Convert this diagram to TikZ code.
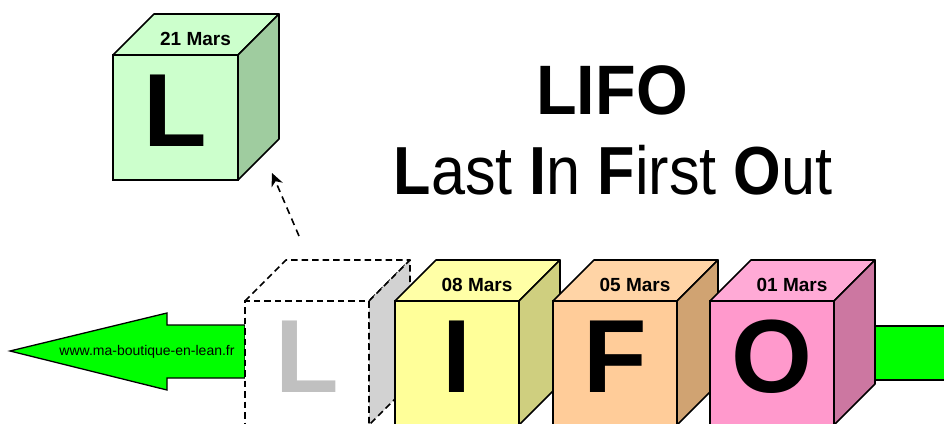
\documentclass[tikz,border=0pt]{standalone}
\usepackage{fontspec}
\setsansfont{Liberation Sans}
\usepackage{graphicx}
\usetikzlibrary{arrows.meta}

\definecolor{vertclair}{HTML}{CCFFCC}
\definecolor{vertcote}{HTML}{9FCC9F}
\definecolor{jaune}{HTML}{FFFF99}
\definecolor{jaunedessus}{HTML}{FFFFA6}
\definecolor{jaunecote}{HTML}{CFCF7F}
\definecolor{orange}{HTML}{FFCC99}
\definecolor{orangedessus}{HTML}{FFD4A6}
\definecolor{orangecote}{HTML}{D0A372}
\definecolor{rose}{HTML}{FF99CC}
\definecolor{rosedessus}{HTML}{FFAAD6}
\definecolor{rosecote}{HTML}{CC77A1}
\definecolor{fleche}{HTML}{00FF00}
\definecolor{gris}{HTML}{D2D2D2}
\definecolor{grislettre}{HTML}{C0C0C0}

\tikzset{
  face/.style={draw, line width=1.6pt, anchor=north west, inner sep=0pt, outer sep=0pt},
  arete/.style={draw, line width=1.6pt, line join=round},
  lettre/.style={font=\sffamily\bfseries\fontsize{104}{104}\selectfont, inner sep=0pt},
  date/.style={font=\sffamily\bfseries\fontsize{19}{19}\selectfont, inner sep=0pt},
  pointille/.style={dash pattern=on 6.5pt off 4pt}
}

% cube: nom, coin haut gauche, taille, face, dessus, cote, lettre, date
\newcommand{\cube}[8]{%
  \node[face, minimum size=#3pt, fill=#4] (#1) at #2 {};
  \draw[arete, fill=#5] (#1.north west) -- ++(41,-41) -- ++(#3,0) -- (#1.north east) -- cycle;
  \draw[arete, fill=#6] (#1.north east) -- ++(41,-41) -- ++(0,#3) -- (#1.south east) -- cycle;
  \node[lettre] (#1l) at ([yshift=6.5pt]#1.center) {#7};
  \node[date] (#1d) at ([shift={(20,-16)}]#1.north) {#8};
}

\begin{document}
\begin{tikzpicture}[x=1pt, y=-1pt, font=\sffamily]
  \useasboundingbox (0,0) rectangle (944,423);
  \clip (0,0) rectangle (944,423);

  % Fleche de sortie (gauche)
  \draw[line width=1.3pt, fill=fleche] (10,351) -- (167,313) -- (167,325) -- (245,325)
    -- (245,378) -- (167,378) -- (167,390) -- cycle;
  \node[font=\sffamily\fontsize{14}{14}\selectfont, inner sep=0pt] (site) at (147,352) {www.ma-boutique-en-lean.fr};

  % Arrivee (droite)
  \draw[line width=1.3pt, fill=fleche] (840,326) rectangle (950,380);

  % Cube sorti (fantome)
  \node[face, pointille, fill=white, minimum size=124pt] (fantome) at (245,301) {};
  \draw[arete, pointille] (fantome.north west) -- ++(41,-41) -- ++(124,0) -- (fantome.north east);
  \draw[arete, pointille, fill=gris] (fantome.north east) -- ++(41,-41) -- ++(0,124) -- (fantome.south east) -- cycle;
  \node[lettre, text=grislettre] (fantomel) at ([yshift=6.5pt]fantome.center) {L};

  % Pile
  \cube{cubeI}{(395,301)}{124}{jaune}{jaunedessus}{jaunecote}{I}{08 Mars}
  \cube{cubeF}{(553,301)}{124}{orange}{orangedessus}{orangecote}{F}{05 Mars}
  \cube{cubeO}{(710,301)}{124}{rose}{rosedessus}{rosecote}{O}{01 Mars}

  % Dernier entre, premier sorti
  \cube{cubeL}{(113,55)}{125}{vertclair}{vertclair}{vertcote}{L}{21 Mars}

  \coordinate (depart) at (299,236);
  \coordinate (arrivee) at (272,173);
  \draw[line width=1.6pt, dash pattern=on 7pt off 5pt, -{Stealth[length=13pt, width=12pt, inset=4pt]}] (depart) -- (arrivee);

  % Titre
  \node[font=\sffamily\bfseries\fontsize{70}{70}\selectfont, inner sep=0pt] (titre) at (612,90) {\scalebox{0.95}[1]{LIFO}};
  \node[font=\sffamily\fontsize{68}{68}\selectfont, inner sep=0pt] (sens) at (613,170)
    {\scalebox{0.9}[1]{\textbf{L}ast \textbf{I}n \textbf{F}irst \textbf{O}ut}};

\end{tikzpicture}
\end{document}
